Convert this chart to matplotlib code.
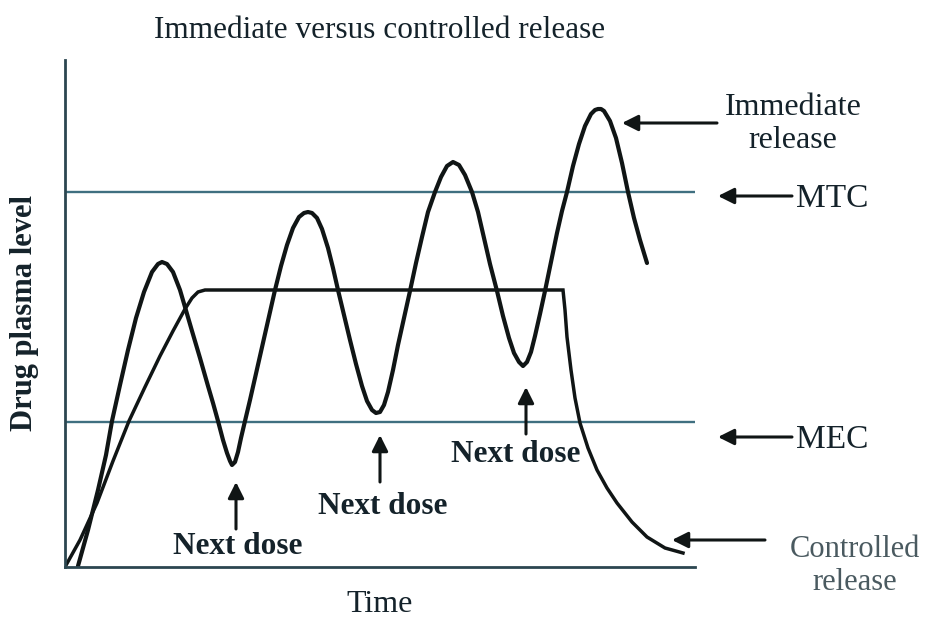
import matplotlib
matplotlib.use("Agg")
import matplotlib.pyplot as plt

plt.rcParams['font.family'] = ['Liberation Serif', 'DejaVu Serif']

# ---- data (arbitrary time / level units) ----
ir_time = [13, 23, 33, 41, 47, 55, 63, 71, 79, 87,
           93, 97, 102, 108, 115, 120, 127, 135, 143, 148,
           153, 158, 162, 165, 167, 170, 173, 176, 180, 185,
           190, 195, 200, 205, 210, 216, 222, 228, 234, 239,
           243, 247, 252, 257, 263, 268, 273, 279, 285, 291,
           297, 302, 307, 311, 315, 319, 323, 328, 333, 339,
           345, 351, 357, 363, 370, 376, 382, 388, 394, 400,
           407, 413, 419, 425, 432, 438, 444, 449, 454, 458,
           462, 466, 470, 475, 480, 486, 492, 497, 502, 508,
           514, 520, 526, 530, 533, 536, 539, 545, 551, 557, 563, 569,
           575, 582]
ir_level = [1, 37, 77, 112, 146, 182, 217, 249, 275, 295,
            303, 305, 303, 295, 277, 260, 236, 209, 181, 164,
            146, 127, 114, 106, 102, 105, 115, 129, 146, 167,
            189, 211, 233, 255, 277, 301, 322, 339, 350, 354,
            355, 354, 349, 338, 319, 299, 277, 252, 227, 203,
            181, 166, 157, 154, 155, 162, 175, 197, 222, 249,
            276, 304, 330, 355, 375, 390, 401, 405, 402, 392,
            375, 355, 329, 303, 276, 251, 229, 214, 205, 201,
            205, 215, 231, 253, 276, 305, 334, 356, 375, 401,
            423, 441, 453, 457, 458, 458, 456, 446, 429, 404, 375, 349,
            327, 304]

cr_time = [0, 15, 32, 48, 64, 80, 95, 108, 120, 127, 133, 140,
           498, 500, 502, 506, 510, 515, 523, 532, 542, 552, 567, 582, 600, 618]
cr_level = [0, 27, 64, 106, 146, 180, 211, 236, 258, 269, 275, 277,
            277, 257, 230, 197, 169, 144, 119, 97, 79, 64, 45, 30, 19, 14]

mtc_level = 375
mec_level = 145
dose_times = [171, 315, 461]
dose_tip_levels = [85, 132, 180]

title = "Immediate versus controlled release"
xlabel = "Time"
ylabel = "Drug plasma level"

# ---- figure ----
W, H = 927, 621
fig = plt.figure(figsize=(W / 100, H / 100), dpi=100)
ax = fig.add_axes([65 / W, (H - 567) / H, 630 / W, 507 / H])
ax.set_xlim(0, 630)
ax.set_ylim(0, 507)

line_col = '#101515'
thr_col = '#3f6f80'
spine_col = '#2c4650'
txt_col = '#14222a'

for s in ['top', 'right']:
    ax.spines[s].set_visible(False)
for s in ['left', 'bottom']:
    ax.spines[s].set_color(spine_col)
    ax.spines[s].set_linewidth(2.0)
ax.set_xticks([])
ax.set_yticks([])

ax.axhline(mtc_level, color=thr_col, lw=1.7)
ax.axhline(mec_level, color=thr_col, lw=1.7)

ax.plot(ir_time, ir_level, color=line_col, lw=3.0, solid_joinstyle='round',
        solid_capstyle='round')
ax.plot(cr_time, cr_level, color=line_col, lw=2.5, solid_joinstyle='miter')

arrow_kw = dict(arrowstyle='-|>', color=line_col, lw=2.2, mutation_scale=24,
                shrinkA=0, shrinkB=0)

# side labels with arrows
ax.annotate('', xy=(557, 444), xytext=(652, 444),
            arrowprops=arrow_kw, annotation_clip=False)
ax.text(728, 443, 'Immediate\nrelease', ha='center', va='center',
        fontsize=23, color=txt_col, linespacing=1.2, clip_on=False)

ax.annotate('', xy=(653, 371), xytext=(727, 371),
            arrowprops=arrow_kw, annotation_clip=False)
ax.text(731, 368, 'MTC', ha='left', va='center', fontsize=24,
        color=txt_col, clip_on=False)

ax.annotate('', xy=(653, 130), xytext=(727, 130),
            arrowprops=arrow_kw, annotation_clip=False)
ax.text(731, 127, 'MEC', ha='left', va='center', fontsize=24,
        color=txt_col, clip_on=False)

ax.annotate('', xy=(607, 27), xytext=(700, 27),
            arrowprops=arrow_kw, annotation_clip=False)
ax.text(790, 1, 'Controlled\nrelease', ha='center', va='center',
        fontsize=22, color='#4a5a60', linespacing=1.15, clip_on=False)

# next dose arrows
label_offsets = [(2, 20), (3, 60), (-10, 112)]
for t, tip, (dx, ly) in zip(dose_times, dose_tip_levels, label_offsets):
    ax.annotate('', xy=(t, tip), xytext=(t, tip - 47),
                arrowprops=arrow_kw, annotation_clip=False)
    ax.text(t + dx, ly, 'Next dose', ha='center', va='center', fontsize=22.5,
            fontweight='bold', color=txt_col, clip_on=False)

fig.text(380 / W, 1 - 30 / H, title, ha='center', va='center', fontsize=22.5,
         color=txt_col)
fig.text(380 / W, 1 - 605 / H, xlabel, ha='center', va='center', fontsize=23,
         color=txt_col)
fig.text(25 / W, 1 - 313 / H, ylabel, ha='center', va='center', fontsize=22,
         rotation=90, fontweight='bold', color=txt_col)

fig.savefig('out.png', dpi=100)
